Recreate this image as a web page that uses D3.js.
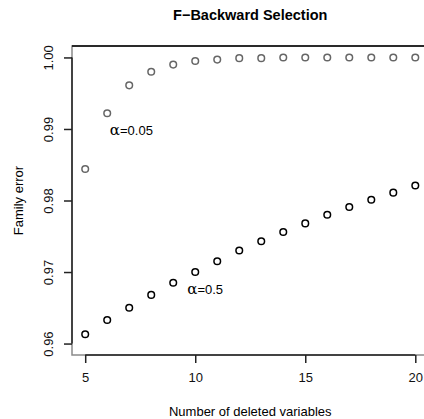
<!DOCTYPE html>
<html lang="en">
<head>
    <meta charset="UTF-8">
    <title>F-Backward Selection</title>
    <script src="https://d3js.org/d3.v7.min.js"></script>
    <style>
        body{ margin:0; background:#fff; }
        svg{ display:block; font-family:"Liberation Sans", Arial, sans-serif; }
    </style>
</head>
<body>
    <script>
        // data
        const deleted = [5,6,7,8,9,10,11,12,13,14,15,16,17,18,19,20]
        const errAlpha005 = [0.9844,0.9922,0.9961,0.9980,0.9990,0.9995,0.9997,0.9999,0.9999,1.0000,1.0000,1.0000,1.0000,1.0000,1.0000,1.0000]
        const errAlpha05 = [0.9613,0.9633,0.9650,0.9668,0.9685,0.9700,0.9715,0.9730,0.9743,0.9756,0.9768,0.9780,0.9791,0.9801,0.9811,0.9821]
        const xTicks = [5,10,15,20]
        const yTicks = [0.96,0.97,0.98,0.99,1.00]
        // where the two alpha labels sit, in data units
        const labelPos = [
            {x:6.58, y:0.9899, txt:"=0.05"},
            {x:10.1, y:0.9676, txt:"=0.5"}
        ]

        const width = 424, height = 419
        const plot = {left:72, right:428.5, top:46, bottom:355}

        const svg = d3.select("body").append("svg")
                        .attr("width",width)
                        .attr("height",height)

        // R style 4% extension on each side
        const xScale = d3.scaleLinear().domain([4.4,20.6]).range([plot.left,plot.right])
        const yScale = d3.scaleLinear().domain([0.9584,1.0016]).range([plot.bottom,plot.top])

        // box
        svg.append("rect")
            .attr("x",plot.left).attr("y",plot.top)
            .attr("width",plot.right-plot.left).attr("height",plot.bottom-plot.top)
            .attr("fill","none").attr("stroke","#8a8a8a").attr("stroke-width",1.5)
        svg.append("line")
            .attr("x1",plot.left).attr("x2",plot.right)
            .attr("y1",plot.top).attr("y2",plot.top)
            .attr("stroke","#000").attr("stroke-width",1.5)

        // x axis
        const gx = svg.append("g")
                    .attr("transform",`translate(0,${plot.bottom})`)
                    .call(d3.axisBottom(xScale).tickValues(xTicks).tickSize(8).tickPadding(10).tickFormat(d3.format("d")))
        gx.select(".domain").remove()
        gx.selectAll("line").attr("stroke","#222").attr("stroke-width",1.5)
        gx.selectAll("text").attr("font-size","13px").attr("fill","#111").attr("font-family",null)
        svg.append("line")
            .attr("x1",xScale(xTicks[0])).attr("x2",xScale(xTicks[xTicks.length-1]))
            .attr("y1",plot.bottom).attr("y2",plot.bottom)
            .attr("stroke","#222").attr("stroke-width",1.5)

        // y axis, labels turned like R's las=0
        const gy = svg.append("g")
                    .attr("transform",`translate(${plot.left},0)`)
                    .call(d3.axisLeft(yScale).tickValues(yTicks).tickSize(8).tickFormat(d3.format(".2f")))
        gy.select(".domain").remove()
        gy.selectAll("line").attr("stroke","#222").attr("stroke-width",1.5)
        gy.selectAll("text")
            .attr("font-size","13px").attr("fill","#111").attr("font-family",null)
            .attr("x",0).attr("dy",null)
            .attr("text-anchor","middle")
            .attr("transform","translate(-19.5,0) rotate(-90)")
        svg.append("line")
            .attr("x1",plot.left).attr("x2",plot.left)
            .attr("y1",yScale(yTicks[0])).attr("y2",yScale(yTicks[yTicks.length-1]))
            .attr("stroke","#222").attr("stroke-width",1.5)

        // points
        const both = [
            {vals:errAlpha005, color:"#666"},
            {vals:errAlpha05, color:"#000"}
        ]
        both.forEach(s=>{
            svg.append("g").selectAll("circle")
                .data(deleted.map((d,i)=>({x:d,y:s.vals[i]})))
                .enter()
                .append("circle")
                .attr("cx",d=>xScale(d.x))
                .attr("cy",d=>yScale(d.y))
                .attr("r",3.3)
                .attr("fill","none")
                .attr("stroke",s.color)
                .attr("stroke-width",1.5)
        })

        // alpha labels
        labelPos.forEach(l=>{
            svg.append("text")
                .attr("x",xScale(l.x)).attr("y",yScale(l.y)+5)
                .attr("font-family","DejaVu Serif, serif")
                .attr("font-size","15px")
                .attr("text-anchor","end")
                .text("\u03b1")
            svg.append("text")
                .attr("x",xScale(l.x)).attr("y",yScale(l.y)+5)
                .attr("font-size","13px")
                .attr("text-anchor","start")
                .text(l.txt)
        })

        // titles
        svg.append("text")
            .attr("x",(plot.left+plot.right)/2).attr("y",20)
            .attr("text-anchor","middle")
            .attr("font-weight","bold").attr("font-size","14.5px")
            .text("F\u2212Backward Selection")
        svg.append("text")
            .attr("x",(plot.left+plot.right)/2).attr("y",416)
            .attr("text-anchor","middle")
            .attr("font-size","13px")
            .text("Number of deleted variables")
        svg.append("text")
            .attr("transform",`translate(22.5,${(plot.top+plot.bottom)/2}) rotate(-90)`)
            .attr("text-anchor","middle")
            .attr("font-size","13px")
            .text("Family error")
    </script>
</body>
</html>
